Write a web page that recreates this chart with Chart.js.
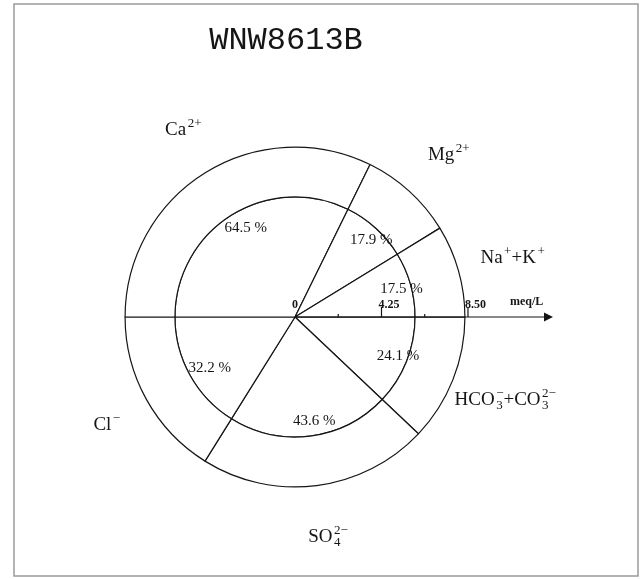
<!DOCTYPE html>
<html>
<head>
<meta charset="utf-8">
<script src="https://cdn.jsdelivr.net/npm/chart.js@4.4.0/dist/chart.umd.min.js"></script>
<style>
  html, body { margin: 0; padding: 0; background: #fff; }
  #wrap { width: 643px; height: 579px; }
</style>
</head>
<body>
<div id="wrap"><canvas id="chart" width="643" height="579"></canvas></div>
<script>
const sampleName = 'WNW8613B';

// slices clockwise from the +x axis: anions (lower half) then cations (upper half)
const ionKeys = ['HCO3+CO3', 'SO4', 'Cl', 'Ca', 'Mg', 'NaK'];
const ionPercent = [24.1, 43.6, 32.2, 64.5, 17.9, 17.5];

// radius of the two circles, meq/L (outer, inner)
const ringMeq = [8.35, 5.90];

// concentration axis
const axisTicks = [0, 2.125, 4.25, 6.375, 8.5];
const axisTickLabels = ['0', '', '4.25', '', '8.50'];
const axisUnit = 'meq/L';

// ion names with sub/superscripts: [text, kind, stacked sup]
const ionNames = {
  'HCO3+CO3': [['HCO'], ['3', 'sub', '\u2212'], ['+'], ['CO'], ['3', 'sub', '2\u2212']],
  'SO4': [['SO'], ['4', 'sub', '2\u2212']],
  'Cl': [['Cl'], ['\u2212', 'sup']],
  'Ca': [['Ca'], ['2+', 'sup']],
  'Mg': [['Mg'], ['2+', 'sup']],
  'NaK': [['Na'], ['+', 'sup'], ['+'], ['K'], ['+', 'sup']]
};

const PX_PER_MEQ = 20.35;
const INK = '#151515';
const SERIF = '"Liberation Serif", "DejaVu Serif", serif';

function drawRich(ctx, parts, x, y) {
  const big = '19px ' + SERIF, small = '13px ' + SERIF;
  let widths = parts.map(p => {
    if (!p[1]) { ctx.font = big; return ctx.measureText(p[0]).width; }
    ctx.font = small;
    let w = ctx.measureText(p[0]).width;
    if (p[2]) w = Math.max(w, ctx.measureText(p[2]).width);
    return w + 1.5;
  });
  let total = widths.reduce((a, b) => a + b, 0);
  let cx = x - total / 2;
  ctx.textAlign = 'left';
  ctx.textBaseline = 'alphabetic';
  const base = y + 6;
  parts.forEach((p, i) => {
    if (!p[1]) {
      ctx.font = big;
      ctx.fillText(p[0], cx, base);
    } else {
      ctx.font = small;
      if (p[1] === 'sup') ctx.fillText(p[0], cx + 1.5, base - 8);
      else {
        ctx.fillText(p[0], cx + 1.5, base + 4);
        if (p[2]) ctx.fillText(p[2], cx + 1.5, base - 8);
      }
    }
    cx += widths[i];
  });
}

const overlay = {
  id: 'overlay',
  afterDraw(chart) {
    const ctx = chart.ctx;
    const outer = chart.getDatasetMeta(0).data;
    const inner = chart.getDatasetMeta(1).data;
    const cx = outer[0].x, cy = outer[0].y;
    const R = outer[0].outerRadius;
    const pxPerMeq = R / ringMeq[0];
    ctx.save();

    // frame
    ctx.strokeStyle = '#9a9a9a';
    ctx.lineWidth = 1.5;
    ctx.strokeRect(14, 4, 624, 572);

    // title
    ctx.fillStyle = INK;
    ctx.font = '32px "Liberation Mono", "DejaVu Sans Mono", monospace';
    ctx.textAlign = 'center';
    ctx.textBaseline = 'middle';
    ctx.fillText(sampleName, 286, 41);

    // axis with arrow
    const axisEnd = cx + 258;
    ctx.strokeStyle = INK;
    ctx.lineWidth = 1.2;
    ctx.beginPath();
    ctx.moveTo(cx, cy);
    ctx.lineTo(axisEnd - 8, cy);
    ctx.stroke();
    ctx.beginPath();
    ctx.moveTo(axisEnd, cy);
    ctx.lineTo(axisEnd - 9, cy - 4.5);
    ctx.lineTo(axisEnd - 9, cy + 4.5);
    ctx.closePath();
    ctx.fill();

    ctx.font = 'bold 12px ' + SERIF;
    ctx.textAlign = 'left';
    ctx.textBaseline = 'alphabetic';
    axisTicks.forEach((t, i) => {
      const x = cx + t * pxPerMeq;
      if (t > 0) {
        const h = axisTickLabels[i] ? 10 : 3;
        ctx.beginPath();
        ctx.moveTo(x, cy);
        ctx.lineTo(x, cy - h);
        ctx.stroke();
      }
      if (axisTickLabels[i]) ctx.fillText(axisTickLabels[i], x - 3, cy - 9);
    });
    ctx.fillText(axisUnit, cx + 215, cy - 12);

    // percentages inside the inner circle, names outside the outer one
    inner.forEach((arc, i) => {
      const mid = (arc.startAngle + arc.endAngle) / 2;
      const r = arc.outerRadius * 0.87;
      ctx.font = '15px ' + SERIF;
      ctx.textAlign = 'center';
      ctx.textBaseline = 'middle';
      ctx.fillText(ionPercent[i].toFixed(1) + ' %', cx + 6 + r * Math.cos(mid), cy + r * Math.sin(mid));
    });
    outer.forEach((arc, i) => {
      const mid = (arc.startAngle + arc.endAngle) / 2;
      const r = R * 1.3;
      drawRich(ctx, ionNames[ionKeys[i]], cx + 5 + r * Math.cos(mid), cy + r * Math.sin(mid));
    });
    ctx.restore();
  }
};

new Chart(document.getElementById('chart'), {
  type: 'pie',
  data: {
    labels: ionKeys,
    datasets: [
      { data: ionPercent, weight: ringMeq[0] - ringMeq[1] },
      { data: ionPercent, weight: ringMeq[1] }
    ]
  },
  options: {
    responsive: false,
    animation: false,
    events: [],
    rotation: 90,
    radius: ringMeq[0] * PX_PER_MEQ,
    layout: { padding: { left: 0, right: 53, top: 55, bottom: 0 } },
    elements: {
      arc: { backgroundColor: '#fff', borderColor: INK, borderWidth: 1.2 }
    },
    plugins: {
      legend: { display: false },
      tooltip: { enabled: false }
    }
  },
  plugins: [overlay]
});
</script>
</body>
</html>
